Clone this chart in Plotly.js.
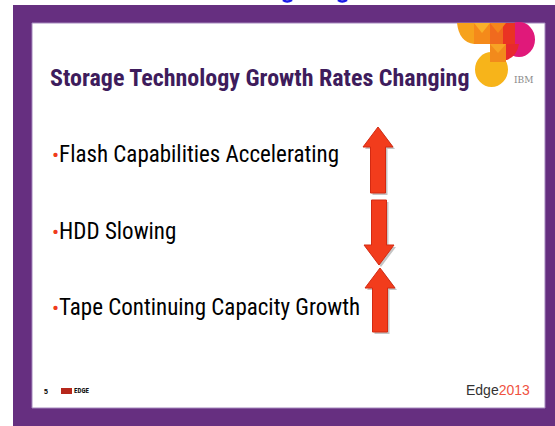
<!DOCTYPE html>
<html><head><meta charset="utf-8">
<script src="https://cdn.plot.ly/plotly-3.0.1.min.js"></script>
<style>html,body{margin:0;padding:0;background:#fff}#c{width:555px;height:426px}</style>
</head><body><div id="c"></div>
<script>
// ---- data ----
const slideTitle = "Storage Technology Growth Rates Changing";
const bulletText = ["Flash Capabilities Accelerating", "HDD Slowing", "Tape Continuing Capacity Growth"];
const trendDirection = [1, -1, 1];   // 1 = growth accelerating (up), -1 = slowing (down)
const footerPage = "5";
const footerBrand = ["Edge", "2013"];

// ---- layout helpers (pixel-like data coordinates) ----
const rowY = [154, 231, 307];
const arrowSpans = [[127, 193, 378], [200, 265, 379], [268, 332, 380]]; // top, bottom, centre x
const shaftHW = 7.5, headHW = 15, headLen = 20;

function arrowPoly(dir, top, bot, cx, dx, dy) {
  let xs, ys;
  if (dir > 0) {
    xs = [cx-shaftHW, cx-shaftHW, cx-headHW, cx, cx+headHW, cx+shaftHW, cx+shaftHW, cx-shaftHW];
    ys = [bot, top+headLen, top+headLen, top, top+headLen, top+headLen, bot, bot];
  } else {
    xs = [cx-shaftHW, cx-shaftHW, cx-headHW, cx, cx+headHW, cx+shaftHW, cx+shaftHW, cx-shaftHW];
    ys = [top, bot-headLen, bot-headLen, bot, bot-headLen, bot-headLen, top, top];
  }
  return {x: xs.map(v => v + dx), y: ys.map(v => v + dy)};
}

const traces = [];
trendDirection.forEach((d, i) => {
  const [t, b, cx] = arrowSpans[i];
  const sh = arrowPoly(d, t, b, cx, 2, 2);
  traces.push({type: 'scatter', mode: 'lines', x: sh.x, y: sh.y, fill: 'toself',
    fillcolor: 'rgba(90,90,90,0.35)', line: {width: 0}, hoverinfo: 'skip', showlegend: false});
  const p = arrowPoly(d, t, b, cx, 0, 0);
  traces.push({type: 'scatter', mode: 'lines', x: p.x, y: p.y, fill: 'toself',
    fillcolor: '#f23c1c', line: {width: 1, color: '#d32a12'}, hoverinfo: 'skip', showlegend: false});
});

const shapes = [
  {type: 'rect', x0: 13, x1: 556, y0: 5, y1: 427, fillcolor: '#662f80', line: {width: 0}, layer: 'below'},
  {type: 'rect', x0: 32, x1: 545, y0: 23, y1: 408, fillcolor: '#ffffff', line: {width: 1, color: '#a488bd'}, layer: 'below'},
  {type: 'path', path: 'M 283 0 Q 287 3 292 0', line: {color: '#1a1ae6', width: 2.5}},
  {type: 'path', path: 'M 338 0 Q 342 3 347 0', line: {color: '#1a1ae6', width: 2.5}},
  // logo pieces
  {type: 'path', path: 'M 457 23 L 474 23 L 474 44 Q 459 42 457 23 Z', fillcolor: '#f6a21c', line: {width: 0}},
  {type: 'rect', x0: 474, x1: 490, y0: 23, y1: 44, fillcolor: '#f58a1a', line: {width: 0}},
  {type: 'rect', x0: 490, x1: 506, y0: 23, y1: 44, fillcolor: '#f06a1e', line: {width: 0}},
  {type: 'circle', x0: 503, x1: 535, y0: 22, y1: 57, fillcolor: '#e0197a', line: {width: 0}},
  {type: 'rect', x0: 503, x1: 515, y0: 23, y1: 44, fillcolor: '#ea3323', line: {width: 0}},
  {type: 'path', path: 'M 505 44 L 519 44 Q 517 56 507 60 L 505 60 Z', fillcolor: '#e8282e', line: {width: 0}},
  {type: 'circle', x0: 475, x1: 508, y0: 52, y1: 87, fillcolor: '#f7b41a', line: {width: 0}},
  {type: 'rect', x0: 490, x1: 506, y0: 44, y1: 62, fillcolor: '#f28a1c', line: {width: 0}},
  {type: 'path', path: 'M 490 44 L 498 53 L 506 44 Z', fillcolor: '#f7a325', line: {width: 0}},
  {type: 'path', path: 'M 474 23 L 482 33 L 490 23 Z', fillcolor: '#f9b02a', line: {width: 0}},
  {type: 'path', path: 'M 490 23 L 498 33 L 506 23 Z', fillcolor: '#f4861c', line: {width: 0}},
  {type: 'rect', x0: 61, x1: 72, y0: 388, y1: 394, fillcolor: '#b6281c', line: {width: 0}}
];

const narrow = '"Roboto Condensed", "Liberation Sans Narrow", "Arial Narrow", "Liberation Sans", Arial, sans-serif';
const annotations = [
  {x: 48, y: 78, xanchor: 'left', yanchor: 'middle', text: '<b>' + slideTitle + '</b>',
   font: {family: narrow, size: 24, color: '#3e1c5c'}, showarrow: false},
  {x: 535, y: 80, xanchor: 'right', yanchor: 'middle', text: 'IBM',
   font: {family: '"DejaVu Serif", serif', size: 9, color: '#8a8a8a'}, showarrow: false},
  {x: 46, y: 391, xanchor: 'center', yanchor: 'middle', text: '<b>' + footerPage + '</b>',
   font: {family: 'Liberation Sans, Arial', size: 7, color: '#000'}, showarrow: false},
  {x: 72, y: 391, xanchor: 'left', yanchor: 'middle', text: '<b>EDGE</b>',
   font: {family: narrow, size: 7, color: '#111'}, showarrow: false},
  {x: 532, y: 390, xanchor: 'right', yanchor: 'middle',
   text: footerBrand[0] + '<span style="color:#f0523f">' + footerBrand[1] + '</span>',
   font: {family: '"Liberation Sans", Arial, sans-serif', size: 14, color: '#333333'}, showarrow: false}
];
bulletText.forEach((t, i) => {
  annotations.push({x: 50, y: rowY[i], xanchor: 'left', yanchor: 'middle',
    text: '<span style="color:#ef3b1c;font-size:21px">•</span>' + t,
    font: {family: narrow, size: 23, color: '#000'}, showarrow: false});
});

const layout = {
  width: 555, height: 426, margin: {l: 0, r: 0, t: 0, b: 0},
  paper_bgcolor: '#ffffff', plot_bgcolor: 'rgba(0,0,0,0)',
  xaxis: {range: [0, 555], visible: false, fixedrange: true},
  yaxis: {range: [426, 0], visible: false, fixedrange: true},
  shapes: shapes, annotations: annotations, showlegend: false
};
Plotly.newPlot('c', traces, layout, {displayModeBar: false, staticPlot: true});
</script></body></html>
